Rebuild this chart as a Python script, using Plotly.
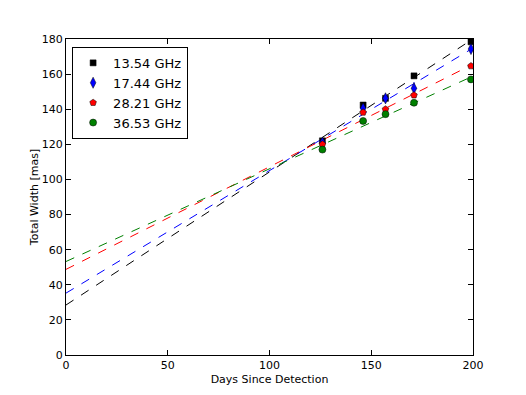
import numpy as np
import plotly.graph_objects as go

# observation epochs (days since detection)
days = [126, 146, 157, 171, 199]

# total width [mas] per frequency
w_1354 = [122.0, 142.4, 146.2, 159.0, 178.4]
w_1744 = [121.0, 140.5, 146.2, 151.9, 174.3]
w_2821 = [120.0, 138.2, 140.0, 148.0, 164.6]
w_3653 = [117.0, 133.3, 137.2, 143.7, 157.0]
err_1744 = [1.0, 1.5, 1.0, 3.5, 1.0]

series = [
    ("13.54 GHz", w_1354, None, "#000000", "square", 6),
    ("17.44 GHz", w_1744, err_1744, "#0000ff", "diamond-tall", 8),
    ("28.21 GHz", w_2821, None, "#ff0000", "pentagon", 7),
    ("36.53 GHz", w_3653, None, "#008000", "circle", 7),
]

FONT = "DejaVu Sans"
x_line = np.array([0, 200])

fig = go.Figure()

# dashed linear fits (drawn first, no legend entry)
for name, w, err, col, sym, sz in series:
    slope, icpt = np.polyfit(days, w, 1)
    fig.add_trace(go.Scatter(
        x=x_line, y=icpt + slope * x_line, mode="lines",
        line=dict(color=col, width=1, dash="dash"),
        showlegend=False, hoverinfo="skip",
    ))

for name, w, err, col, sym, sz in series:
    fig.add_trace(go.Scatter(
        x=days, y=w, mode="markers", name=name,
        marker=dict(color=col, symbol=sym, size=sz,
                    line=dict(color="#000000", width=0.5)),
        error_y=(dict(type="data", array=err, color=col, thickness=1, width=0)
                 if err else None),
    ))

axis_common = dict(
    showline=True, linecolor="#000000", linewidth=1, mirror="ticks",
    ticks="inside", ticklen=5, tickcolor="#000000",
    showgrid=False, zeroline=False, automargin=False,
    tickfont=dict(family=FONT, size=11, color="#000000"),
)

# page body has an 8px margin, so the figure is 8px smaller than the window
fig.update_layout(
    width=518, height=387,
    paper_bgcolor="#ffffff", plot_bgcolor="#ffffff",
    margin=dict(l=58, r=53, t=31, b=40),
    font=dict(family=FONT, color="#000000"),
    xaxis=dict(range=[0, 200], dtick=50,
               title=dict(text="Days Since Detection", standoff=4,
                          font=dict(family=FONT, size=11)),
               **axis_common),
    yaxis=dict(range=[0, 180], dtick=20,
               title=dict(text="Total Width [mas]", standoff=0,
                          font=dict(family=FONT, size=11)),
               **axis_common),
    legend=dict(x=0.015, y=0.975, xanchor="left", yanchor="top",
                bgcolor="#ffffff", bordercolor="#000000", borderwidth=1,
                font=dict(family=FONT, size=13, color="#000000"),
                tracegroupgap=0, itemwidth=30),
    showlegend=True,
)

fig.write_html("out.html")
